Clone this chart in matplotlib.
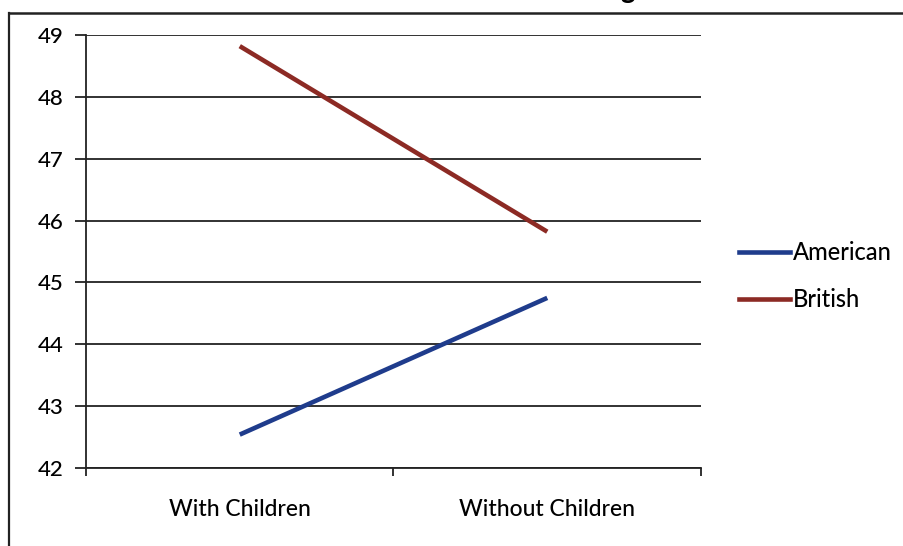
import matplotlib
matplotlib.use("Agg")
import matplotlib.pyplot as plt
from matplotlib.lines import Line2D
from matplotlib.ticker import FixedLocator, NullFormatter, FixedFormatter

plt.rcParams['font.family'] = ['Lato', 'DejaVu Sans']

categories = ["With Children", "Without Children"]
american = [42.54, 44.75]
british = [48.82, 45.82]
y_ticks = [42, 43, 44, 45, 46, 47, 48, 49]

W, H = 904, 546
fig = plt.figure(figsize=(W / 100, H / 100), dpi=100)
fig.patch.set_facecolor("white")

ax = fig.add_axes([86 / W, 1 - 468 / H, (701 - 86) / W, (468 - 35) / H])
x = list(range(len(categories)))

ax.plot(x, american, color="#1f3c8c", lw=3.3, solid_capstyle="butt", label="American")
ax.plot(x, british, color="#8c2a24", lw=3.3, solid_capstyle="butt", label="British")

ax.set_xlim(-0.5, len(categories) - 0.5)
ax.set_ylim(min(y_ticks), max(y_ticks))
ax.set_yticks(y_ticks)
ax.yaxis.grid(True, color="#222222", lw=1.3)
ax.set_axisbelow(True)

# category boundaries get tick marks, category centres get the labels
ax.xaxis.set_major_locator(FixedLocator([i - 0.5 for i in range(len(categories) + 1)]))
ax.xaxis.set_major_formatter(NullFormatter())
ax.xaxis.set_minor_locator(FixedLocator(x))
ax.xaxis.set_minor_formatter(FixedFormatter(categories))
ax.tick_params(axis="x", which="minor", length=0, pad=22, labelsize=16.5)
ax.tick_params(axis="x", which="major", length=6, width=1.3, color="#222222", direction="out")
ax.tick_params(axis="y", length=8, width=1.3, color="#222222", pad=8, labelsize=16)
for lbl in ax.get_yticklabels() + ax.get_xticklabels(minor=True):
    lbl.set_fontweight("medium")

for s in ("top", "right"):
    ax.spines[s].set_visible(False)
for s in ("left", "bottom"):
    ax.spines[s].set_color("#222222")
    ax.spines[s].set_linewidth(1.3)

handles = [Line2D([], [], color="#1f3c8c", lw=3.3),
           Line2D([], [], color="#8c2a24", lw=3.3)]
leg = fig.legend(handles, ["American", "British"], loc="center left",
                 bbox_to_anchor=(718 / W, 1 - 276 / H), frameon=False,
                 fontsize=17, handlelength=2.15, handletextpad=0.12,
                 labelspacing=1.0)
for t in leg.get_texts():
    t.set_fontweight("medium")

# enclosing frame of the figure panel
fig.add_artist(Line2D([9 / W, 9 / W], [0, 1 - 13 / H], transform=fig.transFigure,
                      color="#222222", lw=1.6))
fig.add_artist(Line2D([9 / W, 1], [1 - 13 / H, 1 - 13 / H], transform=fig.transFigure,
                      color="#222222", lw=1.8))

# title text running off the top edge
fig.text(628 / W, 1 + 2 / H, "g", ha="center", va="baseline", fontsize=20,
         fontweight="bold", color="black")

fig.savefig("out.png", dpi=100, facecolor="white")
